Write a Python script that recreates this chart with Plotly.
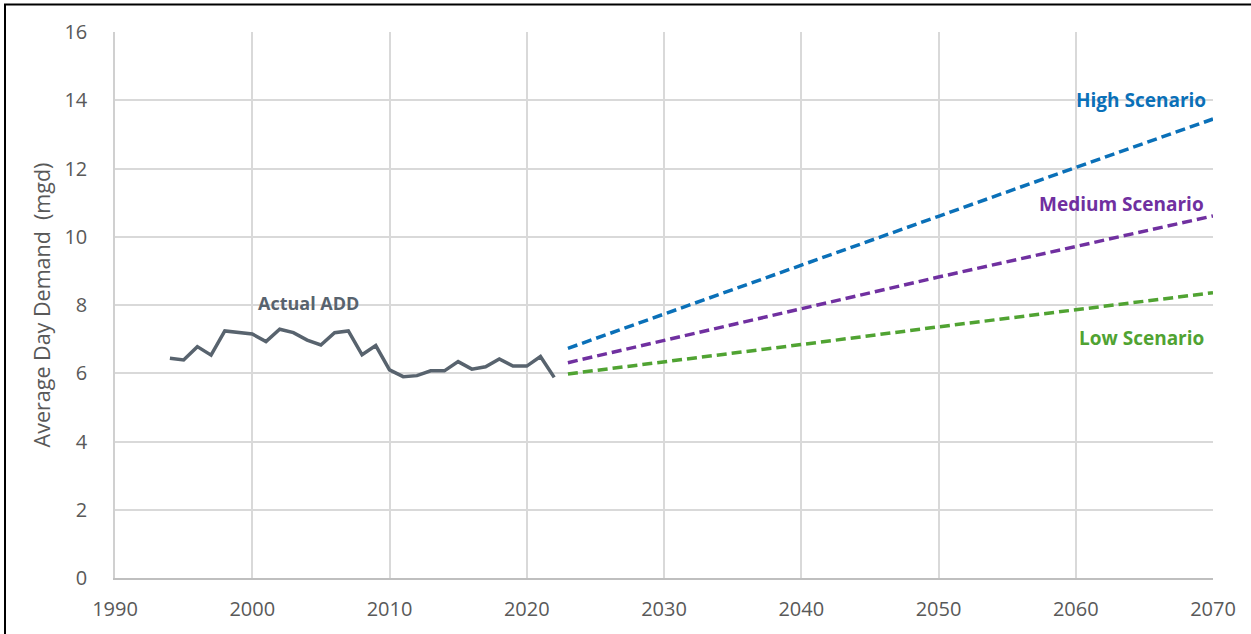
import plotly.graph_objects as go

# Historical average day demand (mgd)
actual_years = list(range(1994, 2023))
actual_add = [6.44, 6.39, 6.78, 6.53, 7.24, 7.19, 7.15, 6.93, 7.29, 7.19,
              6.97, 6.83, 7.19, 7.24, 6.54, 6.81, 6.10, 5.90, 5.93, 6.07,
              6.07, 6.34, 6.12, 6.19, 6.42, 6.21, 6.21, 6.49, 5.88]

# Projected demand scenarios (mgd)
proj_years = [2023, 2030, 2040, 2050, 2060, 2070]
high_scenario = [6.73, 7.74, 9.17, 10.60, 12.03, 13.45]
medium_scenario = [6.31, 6.95, 7.89, 8.82, 9.71, 10.61]
low_scenario = [5.98, 6.33, 6.84, 7.36, 7.86, 8.36]

C_ACTUAL = "#58636E"
C_HIGH = "#0A70B8"
C_MED = "#7030A0"
C_LOW = "#50A332"
FONT = "Open Sans"

fig = go.Figure()
fig.add_trace(go.Scatter(x=actual_years, y=actual_add, mode="lines",
                         line=dict(color=C_ACTUAL, width=3.5), name="Actual ADD"))
dash = "10px,5px"
fig.add_trace(go.Scatter(x=proj_years, y=high_scenario, mode="lines",
                         line=dict(color=C_HIGH, width=3.5, dash=dash), name="High Scenario"))
fig.add_trace(go.Scatter(x=proj_years, y=medium_scenario, mode="lines",
                         line=dict(color=C_MED, width=3.5, dash=dash), name="Medium Scenario"))
fig.add_trace(go.Scatter(x=proj_years, y=low_scenario, mode="lines",
                         line=dict(color=C_LOW, width=3.5, dash=dash), name="Low Scenario"))

def label(text, x, y, color, anchor, size=19):
    fig.add_annotation(x=x, y=y, text=f"<b>{text}</b>", showarrow=False,
                       xanchor=anchor, yanchor="middle",
                       font=dict(family=FONT, size=size, color=color))

label("Actual ADD", 2004.1, 8.06, C_ACTUAL, "center", 18)
label("High Scenario", 2069.6, 14.0, C_HIGH, "right")
label("Medium Scenario", 2069.5, 10.96, C_MED, "right")
label("Low Scenario", 2069.5, 7.03, C_LOW, "right")

fig.update_xaxes(range=[1990, 2070], dtick=10, tick0=1990,
                 showgrid=True, gridcolor="#D9D9D9", gridwidth=2,
                 showline=True, linecolor="#BFBFBF", linewidth=1.5,
                 zeroline=False, ticks="", ticklabelstandoff=12,
                 tickfont=dict(family=FONT, size=20, color="#595959"))
fig.update_yaxes(range=[0, 16], dtick=2,
                 showgrid=True, gridcolor="#D9D9D9", gridwidth=2,
                 showline=True, linecolor="#D0D0D0", linewidth=1.5,
                 zeroline=False, ticks="", ticklabelstandoff=22,
                 tickfont=dict(family=FONT, size=20, color="#595959"),
                 title=dict(text="Average Day Demand  (mgd)", standoff=8,
                            font=dict(family=FONT, size=21.5, color="#595959")))

# Outer frame (top and left edges visible)
fig.add_shape(type="rect", xref="paper", yref="paper",
              x0=-110 / 1098, x1=1.2, y0=-0.3, y1=1 + 27.5 / 546,
              line=dict(color="black", width=2), layer="above")

fig.update_layout(width=1251, height=634,
                  margin=dict(l=115, r=38, t=32, b=56),
                  paper_bgcolor="white", plot_bgcolor="white",
                  showlegend=False)

fig.write_html("out.html")
